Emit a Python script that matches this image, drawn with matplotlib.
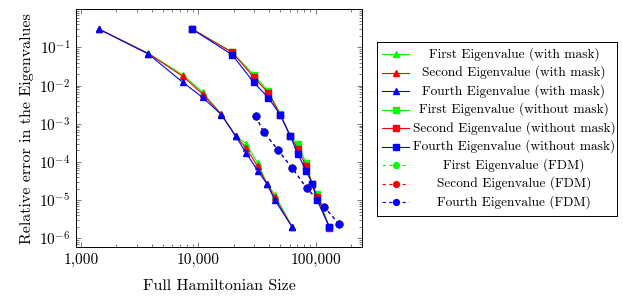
import numpy as np
import matplotlib
matplotlib.use("Agg")
import matplotlib.pyplot as plt
from matplotlib.ticker import FixedLocator, LogLocator, FuncFormatter, NullFormatter
from matplotlib.lines import Line2D

plt.rcParams['font.family'] = 'serif'
plt.rcParams['font.serif'] = ['cmr10', 'DejaVu Serif']
plt.rcParams['mathtext.fontset'] = 'cm'
plt.rcParams['axes.formatter.use_mathtext'] = True

# data
mask_x = [1430, 3760, 7400, 10900, 15700, 20800, 25700, 32100, 38600, 44900, 63100]
mask_first = [0.30, 0.070, 0.019, 0.0067, 0.00178, 4.8e-4, 2.95e-4, 9.3e-5, 2.7e-5, 1.4e-5, 2.0e-6]
mask_second = [0.30, 0.069, 0.0174, 0.0060, 0.00176, 4.8e-4, 2.3e-4, 7.6e-5, 2.65e-5, 1.18e-5, 1.95e-6]
mask_fourth = [0.30, 0.067, 0.0121, 0.0049, 0.00175, 4.8e-4, 1.69e-4, 5.9e-5, 2.64e-5, 1.0e-5, 2.0e-6]

nomask_x = [8900, 19500, 29700, 39600, 50100, 60800, 70600, 83200, 93800, 103000, 131000]
nomask_first = [0.30, 0.076, 0.019, 0.0072, 0.0018, 4.8e-4, 2.95e-4, 9.3e-5, 2.64e-5, 1.45e-5, 2.0e-6]
nomask_second = [0.30, 0.074, 0.0167, 0.0064, 0.0017, 4.8e-4, 2.2e-4, 7.6e-5, 2.64e-5, 1.2e-5, 1.9e-6]
nomask_fourth = [0.30, 0.064, 0.0121, 0.0048, 0.0017, 4.8e-4, 1.62e-4, 5.9e-5, 2.64e-5, 1.0e-5, 2.0e-6]

fdm_x = [30900, 36000, 48000, 63500, 84300, 118000, 160000]
fdm_first = [1.58e-3, 6.2e-4, 2.03e-4, 6.8e-5, 2.04e-5, 6.7e-6, 2.3e-6]
fdm_second = [1.58e-3, 6.2e-4, 2.03e-4, 6.8e-5, 2.04e-5, 6.7e-6, 2.3e-6]
fdm_fourth = [1.58e-3, 6.2e-4, 2.03e-4, 6.8e-5, 2.04e-5, 6.7e-6, 2.3e-6]

labels = ['First Eigenvalue (with mask)', 'Second Eigenvalue (with mask)',
          'Fourth Eigenvalue (with mask)', 'First Eigenvalue (without mask)',
          'Second Eigenvalue (without mask)', 'Fourth Eigenvalue (without mask)',
          'First Eigenvalue (FDM)', 'Second Eigenvalue (FDM)', 'Fourth Eigenvalue (FDM)']

colors = ['#00ff00', '#ff0000', '#0000ff']

series = [
    (mask_x, mask_first, '^', '-'), (mask_x, mask_second, '^', '-'), (mask_x, mask_fourth, '^', '-'),
    (nomask_x, nomask_first, 's', '-'), (nomask_x, nomask_second, 's', '-'), (nomask_x, nomask_fourth, 's', '-'),
    (fdm_x, fdm_first, 'o', '--'), (fdm_x, fdm_second, 'o', '--'), (fdm_x, fdm_fourth, 'o', '--'),
]

fig = plt.figure(figsize=(6.23, 2.99), dpi=100)
ax = fig.add_axes([76 / 623, (299 - 247) / 299, (362 - 76) / 623, (247 - 9.3) / 299])

for i, (x, y, m, ls) in enumerate(series):
    c = colors[i % 3]
    ax.plot(x, y, color=c, marker=m, ls=ls, lw=0.8, ms=4.8, mec=c, mfc=c,
            dashes=(3, 3) if ls == '--' else (None, None))

ax.set_xscale('log')
ax.set_yscale('log')
ax.set_xlim(906, 249000)
ax.set_ylim(5.9e-7, 1.0)
ax.xaxis.set_major_locator(FixedLocator([1e3, 1e4, 1e5]))
ax.xaxis.set_major_formatter(FuncFormatter(lambda v, p: f"{int(round(v)):,}"))
ax.xaxis.set_minor_locator(LogLocator(base=10, subs=np.arange(2, 10)))
ax.xaxis.set_minor_formatter(NullFormatter())
ax.yaxis.set_major_locator(FixedLocator([1e-6, 1e-5, 1e-4, 1e-3, 1e-2, 1e-1]))
ax.yaxis.set_minor_locator(LogLocator(base=10, subs=np.arange(2, 10), numticks=20))
ax.yaxis.set_minor_formatter(NullFormatter())

ax.tick_params(which='both', direction='in', top=True, right=True, width=0.5, color='#444444')
ax.tick_params(which='major', length=3.5, labelsize=11, pad=4)
ax.tick_params(which='minor', length=2)
for s in ax.spines.values():
    s.set_linewidth(0.7)

ax.set_xlabel('Full Hamiltonian Size', fontsize=11.5, labelpad=9)
ax.set_ylabel('Relative error in the Eigenvalues', fontsize=11.5, labelpad=4)

# legend drawn by hand so the text is centered like the original
lax = fig.add_axes([377 / 623, (299 - 216) / 299, 240 / 623, 174 / 299])
lax.set_xlim(0, 240)
lax.set_ylim(174, 0)
lax.set_xticks([])
lax.set_yticks([])
for s in lax.spines.values():
    s.set_linewidth(0.7)
for i, lab in enumerate(labels):
    yy = 12 + i * 18.5
    _, _, m, ls = series[i]
    c = colors[i % 3]
    lax.add_line(Line2D([5, 32], [yy, yy], color=c, lw=0.8,
                        dashes=(3, 3) if ls == '--' else (None, None)))
    lax.add_line(Line2D([18.5], [yy], color=c, marker=m, ms=4.2, mec=c, mfc=c, ls='none'))
    lax.text(137, yy, lab, ha='center', va='center', fontsize=9.6)

fig.savefig('out.png', dpi=100)
